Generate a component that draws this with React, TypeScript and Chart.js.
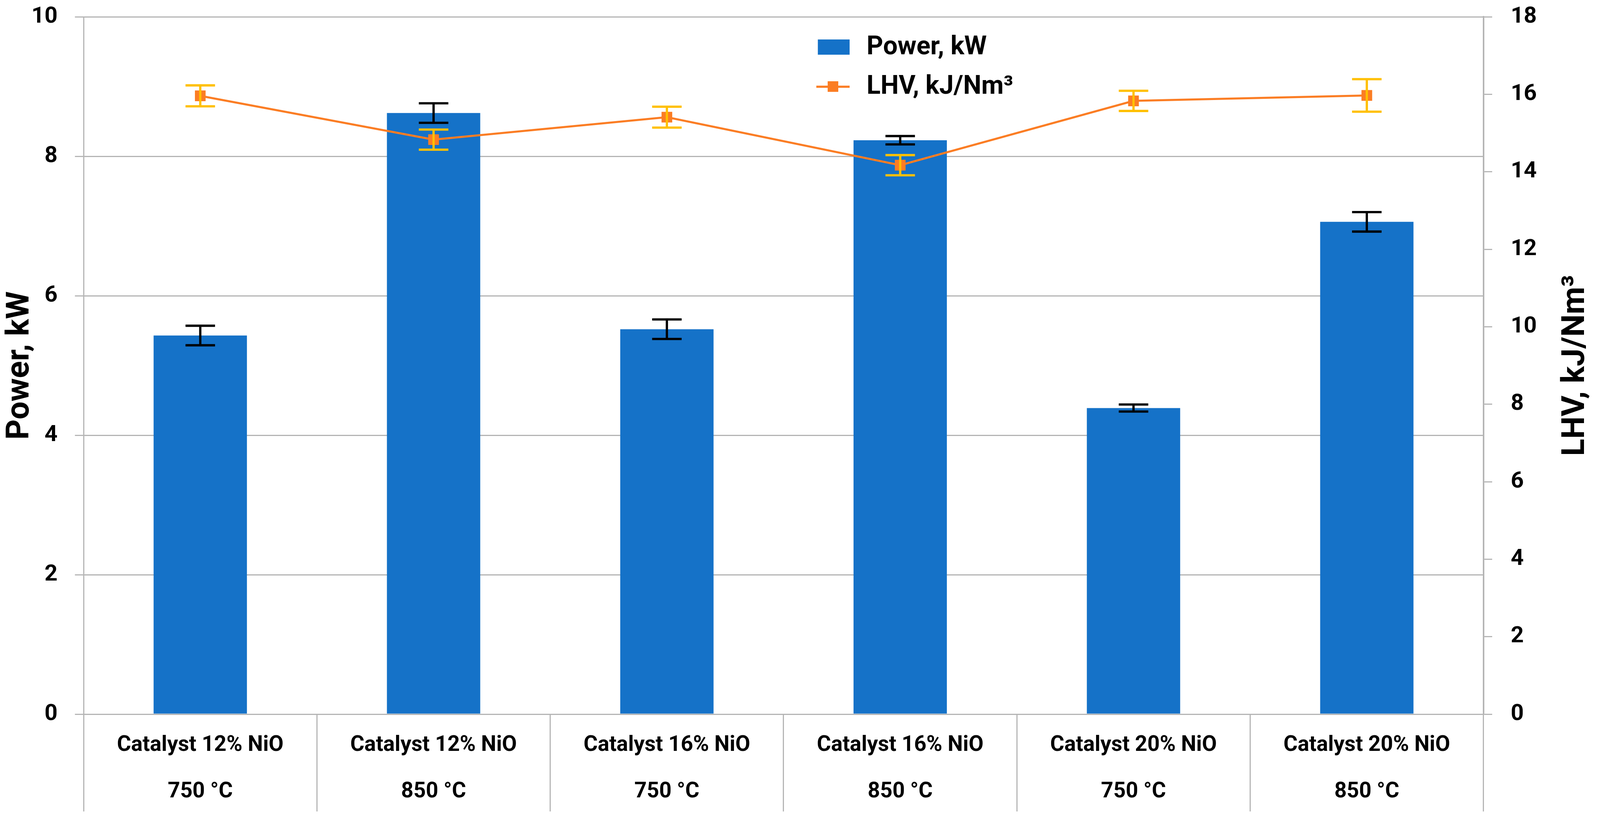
import React, { useEffect, useRef } from "react";
import { Chart, registerables } from "chart.js";

Chart.register(...registerables);

// category labels (two lines each)
const catalysts = [
  "Catalyst 12% NiO",
  "Catalyst 12% NiO",
  "Catalyst 16% NiO",
  "Catalyst 16% NiO",
  "Catalyst 20% NiO",
  "Catalyst 20% NiO",
];
const temperatures = ["750 °C", "850 °C", "750 °C", "850 °C", "750 °C", "850 °C"];

// series
const powerKW = [5.43, 8.62, 5.52, 8.23, 4.39, 7.06];
const powerErr = [0.14, 0.14, 0.14, 0.06, 0.05, 0.14];
const lhv = [15.96, 14.83, 15.41, 14.17, 15.83, 15.97];
const lhvErr = [0.27, 0.26, 0.27, 0.26, 0.26, 0.42];

// axis ticks
const powerTicks = [0, 2, 4, 6, 8, 10];
const lhvTicks = [0, 2, 4, 6, 8, 10, 12, 14, 16, 18];

const BLUE = "#1572C8";
const ORANGE = "#FB7D24";
const GOLD = "#FFC000";
const GRID = "#B4B4B4";
const FONT = "Roboto";

// design size the layout numbers below were measured at
const BASE_W = 4229;
const BASE_H = 2104;

export default function App() {
  const canvasRef = useRef<HTMLCanvasElement | null>(null);

  useEffect(() => {
    const canvas = canvasRef.current;
    if (!canvas) return;

    const W = window.innerWidth;
    const H = window.innerHeight;
    canvas.width = W;
    canvas.height = H;
    const kx = W / BASE_W;
    const ky = H / BASE_H;
    const k = Math.min(kx, ky);

    // error bars for any dataset carrying an errorBars array
    const errorBarsPlugin = {
      id: "errorBars",
      afterDatasetsDraw(chart: any) {
        const { ctx } = chart;
        chart.data.datasets.forEach((ds: any, di: number) => {
          if (!ds.errorBars) return;
          const meta = chart.getDatasetMeta(di);
          const scale = chart.scales[ds.yAxisID];
          const half = 39 * kx;
          ctx.save();
          ctx.strokeStyle = ds.errorColor;
          ctx.lineWidth = ds.errorWidth;
          meta.data.forEach((el: any, i: number) => {
            const v = ds.data[i];
            const e = ds.errorBars[i];
            const x = el.x;
            const yTop = scale.getPixelForValue(v + e);
            const yBot = scale.getPixelForValue(v - e);
            ctx.beginPath();
            ctx.moveTo(x, yTop);
            ctx.lineTo(x, yBot);
            ctx.moveTo(x - half, yTop);
            ctx.lineTo(x + half, yTop);
            ctx.moveTo(x - half, yBot);
            ctx.lineTo(x + half, yBot);
            ctx.stroke();
          });
          ctx.restore();
        });
      },
    };

    // legend inside the plot + right axis title reading bottom to top
    const overlayPlugin = {
      id: "overlay",
      afterDraw(chart: any) {
        const { ctx, chartArea } = chart;
        const w = chartArea.right - chartArea.left;
        const x0 = chartArea.left + 0.5245 * w;
        const y0 = chartArea.top + 78 * ky;
        ctx.save();
        ctx.fillStyle = BLUE;
        ctx.fillRect(x0, y0 - 20 * ky, 84 * kx, 39 * ky);
        ctx.strokeStyle = ORANGE;
        ctx.lineWidth = 5.5 * k;
        ctx.beginPath();
        ctx.moveTo(x0 - 4 * kx, y0 + 101 * ky);
        ctx.lineTo(x0 + 84 * kx, y0 + 101 * ky);
        ctx.stroke();
        ctx.fillStyle = ORANGE;
        ctx.fillRect(x0 + 26 * kx, y0 + 87 * ky, 28 * k, 28 * k);
        ctx.fillStyle = "#000";
        ctx.font = `bold ${68 * k}px ${FONT}`;
        ctx.textAlign = "left";
        ctx.textBaseline = "middle";
        ctx.fillText(chart.data.datasets[0].label, x0 + 129 * kx, y0 + 2 * ky);
        ctx.fillText(chart.data.datasets[1].label, x0 + 129 * kx, y0 + 103 * ky);

        const y1 = chart.scales.y1;
        ctx.translate(y1.right - 63 * kx, (chartArea.top + chartArea.bottom) / 2);
        ctx.rotate(-Math.PI / 2);
        ctx.font = `bold ${84 * k}px ${FONT}`;
        ctx.textAlign = "center";
        ctx.fillText("LHV, kJ/Nm³", 0, 0);
        ctx.restore();
      },
    };

    // fixed axis sizes, and no extra label overflow padding around the plot
    const fixSize = (size: number, horizontal: boolean) => (s: any) => {
      if (horizontal) s.height = size;
      else s.width = size;
      s.paddingTop = 0;
      s.paddingBottom = 0;
      s.paddingLeft = 0;
      s.paddingRight = 0;
    };

    const chart = new Chart(canvas, {
      type: "bar",
      data: {
        labels: catalysts.map((c, i) => [c, temperatures[i]]),
        datasets: [
          {
            type: "bar",
            label: "Power, kW",
            data: powerKW,
            yAxisID: "y",
            backgroundColor: BLUE,
            barPercentage: 0.4,
            categoryPercentage: 1.0,
            order: 2,
            errorBars: powerErr,
            errorColor: "#000",
            errorWidth: 6 * k,
          } as any,
          {
            type: "line",
            label: "LHV, kJ/Nm³",
            data: lhv,
            yAxisID: "y1",
            borderColor: ORANGE,
            borderWidth: 5.5 * k,
            pointStyle: "rect",
            pointRadius: 20 * k,
            pointBackgroundColor: ORANGE,
            pointBorderWidth: 0,
            tension: 0,
            order: 1,
            errorBars: lhvErr,
            errorColor: GOLD,
            errorWidth: 6 * k,
          } as any,
        ],
      },
      options: {
        responsive: false,
        animation: false,
        layout: { padding: { top: 43 * ky, left: 0, right: 0, bottom: 0 } },
        plugins: {
          legend: { display: false },
          tooltip: { enabled: false },
        },
        scales: {
          x: {
            grid: {
              offset: true,
              drawOnChartArea: false,
              drawTicks: true,
              tickLength: 249 * ky,
              color: GRID,
              lineWidth: 3 * k,
            },
            border: { color: GRID, width: 3 * k },
            ticks: {
              color: "#000",
              font: { family: FONT, size: 57 * k, weight: "bold", lineHeight: 2.15 },
              padding: -228 * ky,
              autoSkip: false,
              maxRotation: 0,
            },
            afterFit: fixSize(276 * ky, true),
          },
          y: {
            position: "left",
            min: powerTicks[0],
            max: powerTicks[powerTicks.length - 1],
            ticks: {
              stepSize: powerTicks[1] - powerTicks[0],
              color: "#000",
              padding: 46 * kx,
              font: { family: FONT, size: 60 * k, weight: "bold" },
            },
            grid: { color: GRID, lineWidth: 3 * k, tickLength: 23 * kx },
            border: { color: GRID, width: 3 * k },
            title: {
              display: true,
              text: "Power, kW",
              color: "#000",
              font: { family: FONT, size: 84 * k, weight: "bold", lineHeight: 1.2 },
              padding: { top: 4 * kx, bottom: 0 },
            },
            afterFit: fixSize(221 * kx, false),
          },
          y1: {
            position: "right",
            min: lhvTicks[0],
            max: lhvTicks[lhvTicks.length - 1],
            ticks: {
              stepSize: lhvTicks[1] - lhvTicks[0],
              color: "#000",
              padding: 49 * kx,
              font: { family: FONT, size: 60 * k, weight: "bold" },
            },
            grid: { drawOnChartArea: false, color: GRID, lineWidth: 3 * k, tickLength: 23 * kx },
            border: { color: GRID, width: 4 * k },
            afterFit: fixSize(308 * kx, false),
          },
        },
      },
      plugins: [errorBarsPlugin, overlayPlugin],
    });

    return () => {
      chart.destroy();
    };
  }, []);

  return (
    <div style={{ position: "fixed", left: 0, top: 0, right: 0, bottom: 0, background: "#fff" }}>
      <canvas ref={canvasRef} />
    </div>
  );
}
